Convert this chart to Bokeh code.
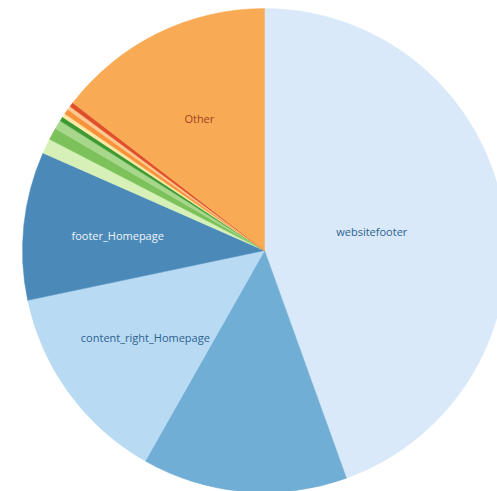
import math
from bokeh.plotting import figure
from bokeh.models import ColumnDataSource, Range1d
from bokeh.core.properties import value
from bokeh.embed import file_html
from bokeh.resources import INLINE

# Data (clockwise from 12 o'clock), percent share
categories = ["websitefooter", "header_Homepage", "content_right_Homepage", "footer_Homepage",
              "slot_a", "slot_b", "slot_c", "slot_d", "slot_e", "slot_f", "slot_g", "slot_h", "Other"]
shares = [44.5, 13.7, 13.5, 9.9, 1.0, 0.8, 0.6, 0.3, 0.25, 0.35, 0.25, 0.3, 14.55]
labels = ["websitefooter", "", "content_right_Homepage", "footer_Homepage",
          "", "", "", "", "", "", "", "", "Other"]
colors = ["#d9e9f9", "#70aed5", "#b8dbf3", "#4b8ab8",
          "#d7f0b8", "#7dc15a", "#a6d78a", "#3d9a33", "#fde9a5", "#f8923b", "#fdc98f", "#e0502a",
          "#f8aa55"]
label_colors = ["#2d6190", "#2d6190", "#2d6190", "#eef4fa",
                "#333333", "#333333", "#333333", "#333333", "#333333", "#333333", "#333333", "#333333",
                "#a3441f"]

W, H = 497, 491
cx, cy, R = 264, H - 250, 242

total = sum(shares)
starts, ends, lx, ly = [], [], [], []
cum = 0.0
for c, s in zip(categories, shares):
    a0 = math.pi / 2 - 2 * math.pi * cum / total
    cum += s
    a1 = math.pi / 2 - 2 * math.pi * cum / total
    starts.append(a0)
    ends.append(a1)
    mid = (a0 + a1) / 2
    rf = 0.45 if c == "websitefooter" else 0.61
    lx.append(cx + rf * R * math.cos(mid))
    ly.append(cy + rf * R * math.sin(mid))

src = ColumnDataSource(dict(cat=categories, start=starts, end=ends, color=colors))
lsrc = ColumnDataSource(dict(x=lx, y=ly, text=labels, tc=label_colors))

p = figure(width=W, height=H, output_backend="svg", toolbar_location=None,
           x_range=Range1d(0, W), y_range=Range1d(0, H), min_border=0,
           outline_line_color=None)
p.axis.visible = False
p.grid.visible = False
p.background_fill_color = "white"
p.border_fill_color = "white"

p.wedge(x=cx, y=cy, radius=R, start_angle="start", end_angle="end", direction="clock",
        fill_color="color", line_color="color", line_width=0.5, source=src)
p.text(x="x", y="y", text="text", text_color="tc", source=lsrc,
       text_align="center", text_baseline="middle",
       text_font=value("Open Sans"), text_font_size="11px")

open("out.html", "w").write(file_html(p, INLINE))
